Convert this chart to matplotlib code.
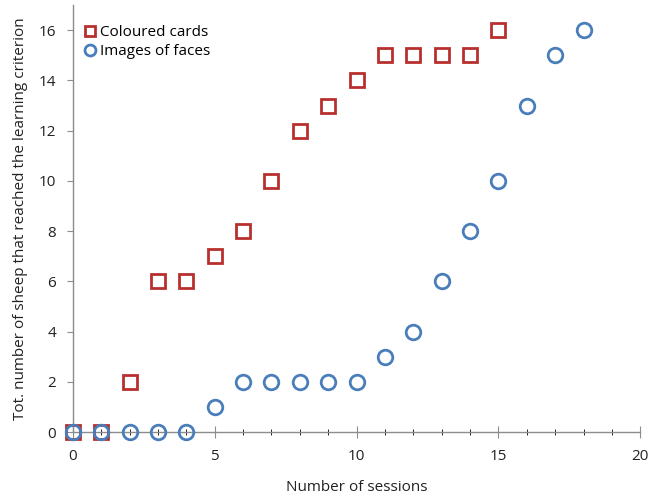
import matplotlib.pyplot as plt

# data
sessions_cards = [0, 1, 2, 3, 4, 5, 6, 7, 8, 9, 10, 11, 12, 13, 14, 15]
cards = [0, 0, 2, 6, 6, 7, 8, 10, 12, 13, 14, 15, 15, 15, 15, 16]

sessions_faces = [0, 1, 2, 3, 4, 5, 6, 7, 8, 9, 10, 11, 12, 13, 14, 15, 16, 17, 18]
faces = [0, 0, 0, 0, 0, 1, 2, 2, 2, 2, 2, 3, 4, 6, 8, 10, 13, 15, 16]

plt.rcParams['font.family'] = ['Open Sans', 'DejaVu Sans']

fig = plt.figure(figsize=(6.5, 5.03), dpi=100)
ax = fig.add_axes([0.112, 0.141, 0.873, 0.849])

ax.plot(sessions_cards, cards, linestyle='none', marker='s', markersize=10.5,
        markerfacecolor='none', markeredgecolor='#B8302E', markeredgewidth=2,
        label='Coloured cards', clip_on=False, zorder=3)
ax.plot(sessions_faces, faces, linestyle='none', marker='o', markersize=10.5,
        markerfacecolor='none', markeredgecolor='#4A7EBB', markeredgewidth=2,
        label='Images of faces', clip_on=False, zorder=4)

ax.set_xlim(0, 20)
ax.set_ylim(0, 17)
ax.set_xticks([0, 5, 10, 15, 20])
ax.set_xticks(range(0, 21), minor=True)
ax.set_yticks(range(0, 17, 2))

for s in ['top', 'right']:
    ax.spines[s].set_visible(False)
for s in ['left', 'bottom']:
    ax.spines[s].set_color('#8C8C8C')
    ax.spines[s].set_linewidth(1)

ax.tick_params(axis='both', colors='#8C8C8C', labelcolor='#222222', labelsize=11)
ax.tick_params(axis='x', which='major', direction='inout', length=8, pad=8)
ax.tick_params(axis='x', which='minor', direction='inout', length=5)
ax.tick_params(axis='y', direction='out', length=4, pad=8)

ax.set_xlabel('Number of sessions', fontsize=11, color='#222222', labelpad=12)
ax.set_ylabel('Tot. number of sheep that reached the learning criterion',
              fontsize=11, color='#222222', labelpad=8)

ax.legend(loc='upper left', frameon=False, fontsize=11, handletextpad=0.2,
          borderaxespad=0.2, labelspacing=0.3, handlelength=1,
          markerscale=0.75, bbox_to_anchor=(0.0, 0.975))

plt.savefig('out.png', dpi=100)
